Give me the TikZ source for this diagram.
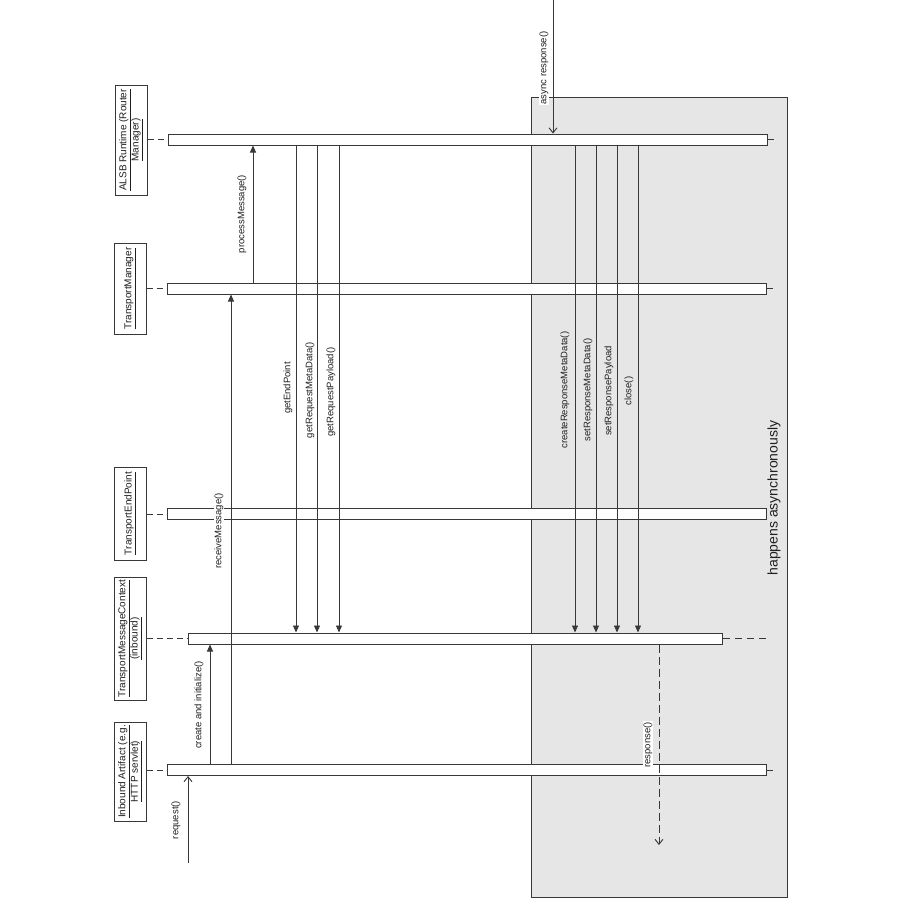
\documentclass[tikz,border=0pt]{standalone}
\usepackage{fontspec}
\setmainfont{Liberation Sans}
\usetikzlibrary{arrows.meta}
\definecolor{ln}{HTML}{383838}
\definecolor{bg}{HTML}{E6E6E6}
\definecolor{txt}{HTML}{202020}
\begin{document}
\begin{tikzpicture}[x=1pt,y=-1pt,
  every node/.style={font=\fontsize{9.5}{11}\selectfont, text=txt},
  objbox/.style={draw=ln, line width=1pt, rotate=90, align=center, inner sep=1pt, minimum height=32pt, font=\fontsize{10}{11}\selectfont},
  actbar/.style={draw=ln, fill=white, line width=1pt, minimum height=11pt, inner sep=0pt},
  life/.style={draw=ln, line width=0.9pt, dash pattern=on 6pt off 4pt},
  sync/.style={draw=ln, line width=0.9pt, -{Triangle[length=7pt,width=6pt]}},
  openarr/.style={draw=ln, line width=0.9pt, -{Straight Barb[length=5pt,width=8pt]}},
  lbl/.style={rotate=90, inner sep=1pt},
  wlbl/.style={rotate=90, inner sep=1pt, fill=white}]
\fill[white] (0,0) rectangle (900,900);
\useasboundingbox (0,0) rectangle (900,900);
% async region
\filldraw[fill=bg, draw=ln, line width=0.9pt] (531,97) rectangle (787,897);
% object boxes
\node[objbox, minimum width=110pt] (alsbBox) at (131,140) {\underline{ALSB Runtime (Router}\\\underline{Manager)}};
\node[objbox, minimum width=91pt] (tmBox) at (130,288.5) {\underline{TransportManager}};
\node[objbox, minimum width=93pt] (tepBox) at (130,513.5) {\underline{TransportEndPoint}};
\node[objbox, minimum width=123pt] (tmcBox) at (130,638.5) {\underline{TransportMessageContext}\\\underline{(inbound)}};
\node[objbox, minimum width=99pt] (inbBox) at (130,771.5) {\underline{Inbound Artifact (e.g.}\\\underline{HTTP servlet)}};
% activation bars
\node[actbar, minimum width=599pt] (alsb) at (467.5,139.5) {};
\node[actbar, minimum width=599pt] (tm) at (466.5,288.5) {};
\node[actbar, minimum width=599pt] (tep) at (466.5,514) {};
\node[actbar, minimum width=534pt] (tmc) at (455,638.5) {};
\node[actbar, minimum width=599pt] (inb) at (466.5,770) {};
% lifeline stubs
\coordinate (alsbR) at (777,139.5);
\coordinate (tmR) at (776,288.5);
\coordinate (tmcR) at (767,638.5);
\coordinate (inbR) at (776,770);
\draw[life] (alsb.west -| alsbBox.south) -- (alsb.west);
\draw[life] (tm.west -| tmBox.south) -- (tm.west);
\draw[life] (tep.west -| tepBox.south) -- (tep.west);
\draw[life] (tmc.west -| tmcBox.south) -- (tmc.west);
\draw[life] (inb.west -| inbBox.south) -- (inb.west);
\draw[life] (alsb.east) -- (alsbR);
\draw[life] (tm.east) -- (tmR);
\draw[life, dash pattern=on 7pt off 5pt] (tmc.east) -- (tmcR);
\draw[life] (inb.east) -- (inbR);
\node[rotate=90, font=\fontsize{14}{16}\selectfont] (asynctxt) at (774,498) {happens asynchronously};
% message x positions
\coordinate (reqStart) at (188,863);
\coordinate (xCreate) at (210,0);
\coordinate (xRecv) at (231,0);
\coordinate (xProc) at (253,0);
\coordinate (xGep) at (296,0);
\coordinate (xGrm) at (317,0);
\coordinate (xGrp) at (339,0);
\coordinate (asyncStart) at (553,0);
\coordinate (xCrm) at (575,0);
\coordinate (xSrm) at (596,0);
\coordinate (xSrp) at (617,0);
\coordinate (xClose) at (638,0);
\coordinate (xResp) at (659,0);
\coordinate (respEnd) at (659,845);
% messages
\draw[openarr] (reqStart) -- (inb.south -| reqStart);
\draw[sync] (inb.north -| xCreate) -- (tmc.south -| xCreate);
\draw[sync] (inb.north -| xRecv) -- (tm.south -| xRecv);
\draw[sync] (tm.north -| xProc) -- (alsb.south -| xProc);
\draw[sync] (alsb.south -| xGep) -- (tmc.north -| xGep);
\draw[sync] (alsb.south -| xGrm) -- (tmc.north -| xGrm);
\draw[sync] (alsb.south -| xGrp) -- (tmc.north -| xGrp);
\draw[openarr] (asyncStart) -- (alsb.north -| asyncStart);
\draw[sync] (alsb.south -| xCrm) -- (tmc.north -| xCrm);
\draw[sync] (alsb.south -| xSrm) -- (tmc.north -| xSrm);
\draw[sync] (alsb.south -| xSrp) -- (tmc.north -| xSrp);
\draw[sync] (alsb.south -| xClose) -- (tmc.north -| xClose);
\draw[openarr, dash pattern=on 8pt off 4pt] (tmc.south -| xResp) -- (respEnd);
% labels
\node[lbl] (lReq) at (176,820) {request()};
\node[lbl] (lCreate) at (199,705) {create and initialize()};
\node[wlbl] (lRecv) at (219,531) {receiveMessage()};
\node[lbl] (lProc) at (242,214) {processMessage()};
\node[lbl] (lGep) at (288,388) {getEndPoint};
\node[lbl] (lGrm) at (310,390) {getRequestMetaData()};
\node[lbl] (lGrp) at (331,392) {getRequestPayload()};
\node[wlbl] (lAsync) at (544,68) {async response()};
\node[lbl] (lCrm) at (565,390) {createResponseMetaData()};
\node[lbl] (lSrm) at (588,390) {setResponseMetaData()};
\node[lbl] (lSrp) at (609,391) {setResponsePayload};
\node[lbl] (lClose) at (629,391) {close()};
\node[wlbl] (lResp) at (648,745) {response()};
\end{tikzpicture}
\end{document}
